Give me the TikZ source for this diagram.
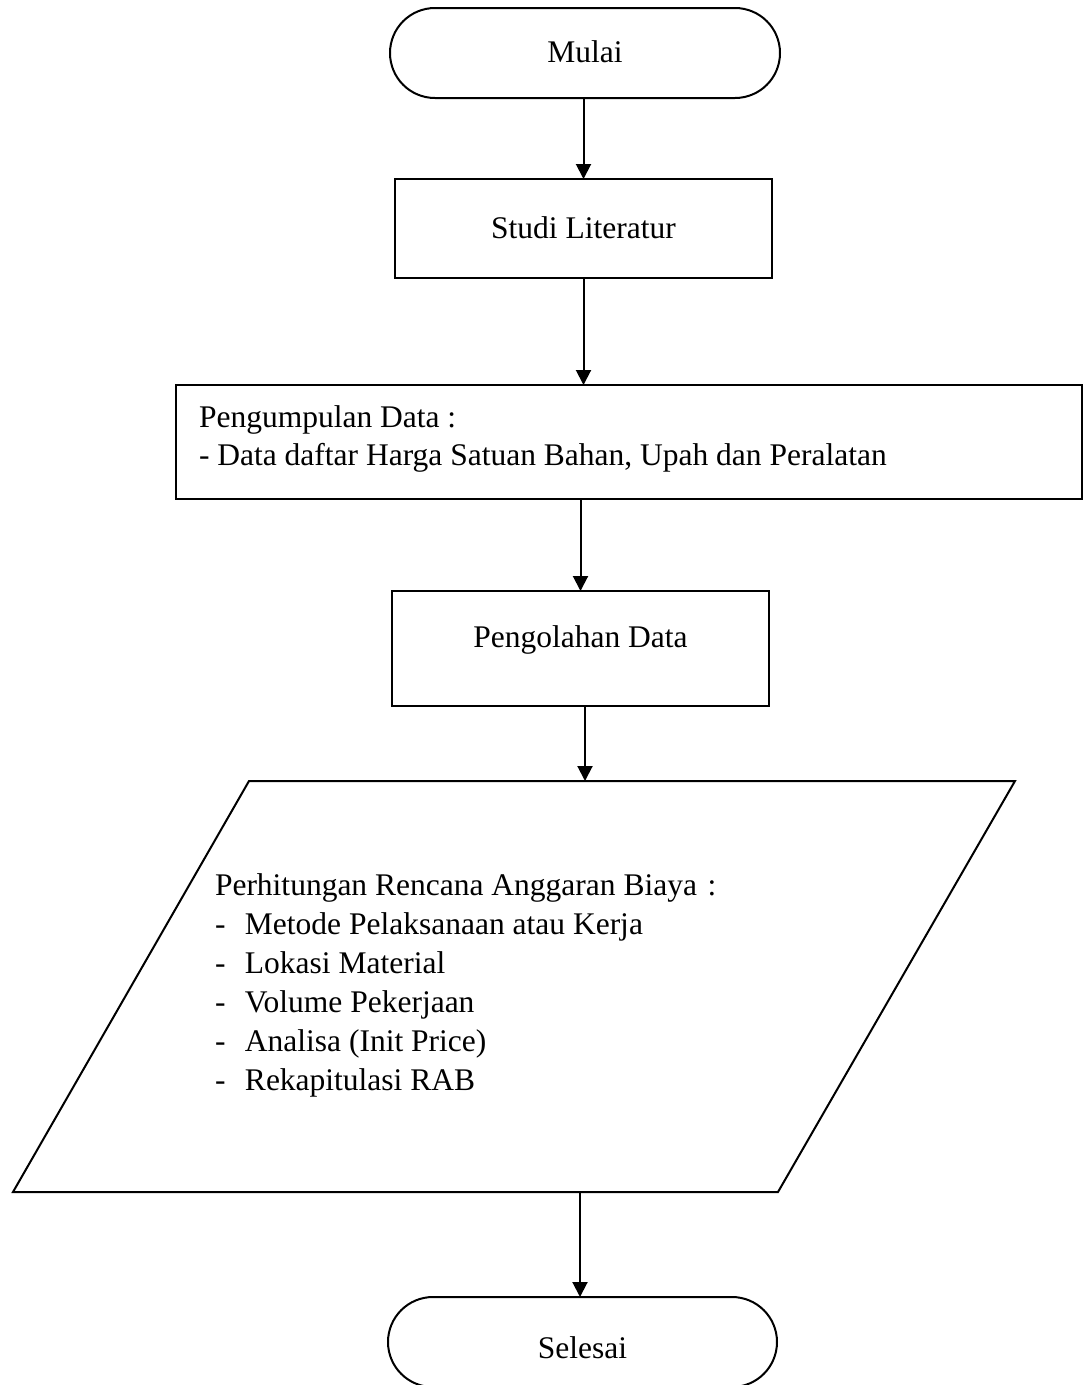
\documentclass[tikz,border=0pt]{standalone}
\usepackage{fontspec}
\setmainfont{Liberation Serif}
\usetikzlibrary{arrows.meta}
\begin{document}
\begin{tikzpicture}[x=1pt,y=-1pt,
  every node/.style={font=\fontsize{31.5}{38}\selectfont, inner sep=0pt, outer sep=0pt},
  shp/.style={draw, line width=2pt},
  procbox/.style={shp, rectangle},
  termbox/.style={shp, rectangle, rounded corners=45pt, minimum height=90pt},
  arr/.style={line width=2pt, -{Triangle[length=15pt,width=15pt]}}]
\useasboundingbox (0,0) rectangle (1084,1385);

\node[termbox, minimum width=390pt, text height=22pt, text depth=4pt] (mulai) at (585,53) {Mulai};
\node[procbox, minimum width=377pt, minimum height=99pt, text height=22pt, text depth=3pt] (studi) at (583.5,228.5) {Studi Literatur};
\node[procbox, minimum width=906pt, minimum height=114pt, text width=860pt, align=flush left, text height=20pt, text depth=50pt] (data) at (629,442)
  {Pengumpulan Data :\\- Data daftar Harga Satuan Bahan, Upah dan Peralatan};
\node[procbox, minimum width=377pt, minimum height=115pt, text height=10pt, text depth=13pt] (pengolahan) at (580.5,648.5) {Pengolahan Data};

\coordinate (ptl) at (249,781);
\coordinate (ptr) at (1015,781);
\coordinate (pbr) at (778,1192);
\coordinate (pbl) at (13,1192);
\draw[shp, line join=miter] (ptl) -- (ptr) -- (pbr) -- (pbl) -- cycle;
\coordinate (pin) at (585,781);
\coordinate (pout) at (580,1192);
\node[anchor=base west, align=left, font=\fontsize{31.5}{39}\selectfont] (rab) at (215,1090)
  {Perhitungan Rencana Anggaran Biaya\,\,:\\
   \makebox[30pt][l]{-}Metode Pelaksanaan atau Kerja\\
   \makebox[30pt][l]{-}Lokasi Material\\
   \makebox[30pt][l]{-}Volume Pekerjaan\\
   \makebox[30pt][l]{-}Analisa (Init Price)\\
   \makebox[30pt][l]{-}Rekapitulasi RAB};

\node[termbox, minimum width=389pt, text height=32pt, text depth=0pt] (selesai) at (582.5,1342) {Selesai};

\draw[arr] (mulai.south -| studi.north) -- (studi.north);
\draw[arr] (studi.south) -- (studi.south |- data.north);
\draw[arr] (pengolahan.north |- data.south) -- (pengolahan.north);
\draw[arr] (pengolahan.south -| pin) -- (pin);
\draw[arr] (pout) -- (pout |- selesai.north);
\end{tikzpicture}
\end{document}
